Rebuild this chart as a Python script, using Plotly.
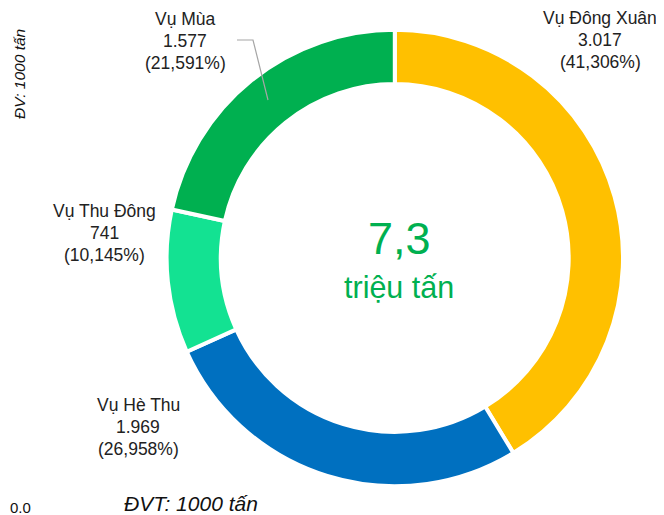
import plotly.graph_objects as go

labels = ["Vụ Đông Xuân", "Vụ Hè Thu", "Vụ Thu Đông", "Vụ Mùa"]
values = [3017, 1969, 741, 1577]
colors = ["#FFC000", "#0070C0", "#13E292", "#00B050"]
center_value = "7,3"
center_unit = "triệu tấn"

total = sum(values)

def fmt_val(v):
    return f"{v:,}".replace(",", ".")

def fmt_pct(v):
    return f"({v / total * 100:.3f}%)".replace(".", ",")

# page body has an 8px default margin; work in screen pixels and convert
OFF = 8
W, H = 664 - OFF, 515 - OFF

def px(x):
    return (x - OFF) / W

def py(y):
    return 1 - (y - OFF) / H

cx, cy, R = 394.8, 258, 228.2

fig = go.Figure(go.Pie(
    labels=labels, values=values, sort=False, direction="clockwise", rotation=0,
    hole=0.762, textinfo="none", hoverinfo="label+value+percent",
    marker=dict(colors=colors, line=dict(color="white", width=4)),
    domain=dict(x=[px(cx - R), px(cx + R)], y=[py(cy + R), py(cy - R)]),
    showlegend=False,
))

label_pos = [(600, 18), (138, 405), (104.5, 211), (185, 19)]
font = dict(family="Liberation Sans, Arial", size=17.5, color="#222222")
anns = []
for (x, y), lab, v in zip(label_pos, labels, values):
    for i, line in enumerate([lab, fmt_val(v), fmt_pct(v)]):
        anns.append(dict(x=px(x), y=py(y + 22 * i), xref="paper", yref="paper",
                         text=line, showarrow=False, font=font,
                         xanchor="center", yanchor="middle"))

green = "#00B050"
anns.append(dict(x=px(399), y=py(238), xref="paper", yref="paper", text=center_value,
                 showarrow=False, font=dict(family="Liberation Sans, Arial", size=45, color=green),
                 xanchor="center", yanchor="middle"))
anns.append(dict(x=px(399), y=py(287), xref="paper", yref="paper", text=center_unit,
                 showarrow=False, font=dict(family="Liberation Sans, Arial", size=30.5, color=green),
                 xanchor="center", yanchor="middle"))
anns.append(dict(x=px(19), y=py(74), xref="paper", yref="paper", text="<i>ĐV: 1000 tấn</i>",
                 showarrow=False, textangle=-90,
                 font=dict(family="Liberation Sans, Arial", size=15.5, color="#111111"),
                 xanchor="center", yanchor="middle"))
anns.append(dict(x=px(191), y=py(503), xref="paper", yref="paper", text="<i>ĐVT: 1000 tấn</i>",
                 showarrow=False,
                 font=dict(family="Liberation Sans, Arial", size=21, color="#111111"),
                 xanchor="center", yanchor="middle"))
anns.append(dict(x=px(8), y=py(507), xref="paper", yref="paper", text="0.0",
                 showarrow=False,
                 font=dict(family="Liberation Sans, Arial", size=15, color="#111111"),
                 xanchor="left", yanchor="middle"))

shapes = [dict(type="path", xref="paper", yref="paper",
               path=f"M {px(237)},{py(40)} L {px(253)},{py(40)} L {px(268)},{py(100)}",
               line=dict(color="#A6A6A6", width=1.2))]

fig.update_layout(width=W, height=H, margin=dict(l=0, r=0, t=0, b=0),
                  paper_bgcolor="white", plot_bgcolor="white",
                  annotations=anns, shapes=shapes)
fig.write_html("out.html")
